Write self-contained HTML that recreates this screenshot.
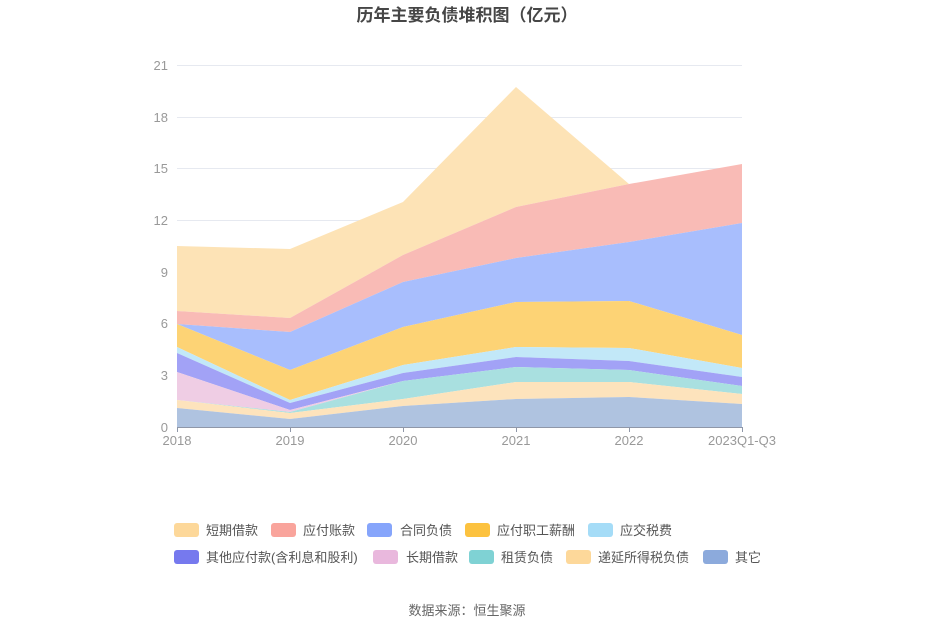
<!DOCTYPE html>
<html><head><meta charset="utf-8"><style>
body{margin:0;background:#fff;}
svg{display:block;font-family:"Liberation Sans","Noto Sans CJK SC",sans-serif;}
</style></head><body>
<svg width="935" height="632" viewBox="0 0 935 632">
<text x="467" y="21" text-anchor="middle" font-size="17" font-weight="bold" fill="#464646">历年主要负债堆积图（亿元）</text>
<g stroke="#e6e9f0" stroke-width="1">
<line x1="177" x2="742" y1="65.5" y2="65.5"/><line x1="177" x2="742" y1="117.5" y2="117.5"/>
<line x1="177" x2="742" y1="168.5" y2="168.5"/><line x1="177" x2="742" y1="220.5" y2="220.5"/>
<line x1="177" x2="742" y1="272.5" y2="272.5"/><line x1="177" x2="742" y1="323.5" y2="323.5"/>
<line x1="177" x2="742" y1="375.5" y2="375.5"/>
</g>
<g font-size="13" fill="#999" text-anchor="end">
<text x="168" y="70">21</text><text x="168" y="122">18</text><text x="168" y="173">15</text>
<text x="168" y="225">12</text><text x="168" y="277">9</text><text x="168" y="328">6</text>
<text x="168" y="380">3</text><text x="168" y="432">0</text>
</g>
<g stroke="none">
<polygon fill="#fde3b6" points="177,246 290,249 403,202 516,87 629,184 742,164 742,164 629,184 516,207 403,255 290,318 177,311"/>
<polygon fill="#f9bbb6" points="177,311 290,318 403,255 516,207 629,184 742,164 742,223 629,242 516,258 403,282 290,332 177,324"/>
<polygon fill="#a8befd" points="177,324 290,332 403,282 516,258 629,242 742,223 742,335 629,301 516,302 403,327 290,370 177,324"/>
<polygon fill="#fdd375" points="177,324 290,370 403,327 516,302 629,301 742,335 742,368 629,348 516,347 403,365 290,400 177,347"/>
<polygon fill="#c2e8f8" points="177,347 290,400 403,365 516,347 629,348 742,368 742,377 629,361 516,357 403,373 290,403 177,353"/>
<polygon fill="#a2a2f6" points="177,353 290,403 403,373 516,357 629,361 742,377 742,386 629,370 516,367 403,381 290,410 177,372"/>
<polygon fill="#efcde4" points="177,372 290,410 403,381 516,367 629,370 742,386 742,386 629,370 516,367 403,381 290,412 177,400"/>
<polygon fill="#a9e0e0" points="177,400 290,412 403,381 516,367 629,370 742,386 742,394 629,382 516,382 403,399 290,413 177,400"/>
<polygon fill="#fde3bc" points="177,400 290,413 403,399 516,382 629,382 742,394 742,404 629,397 516,399 403,406 290,419 177,408"/>
<polygon fill="#afc3e0" points="177,408 290,419 403,406 516,399 629,397 742,404 742,427 177,427"/>
</g>
<line x1="177" x2="742" y1="427.5" y2="427.5" stroke="#8f97a8"/>
<g stroke="#8f97a8"><line x1="177.5" x2="177.5" y1="427" y2="432"/><line x1="290.5" x2="290.5" y1="427" y2="432"/><line x1="403.5" x2="403.5" y1="427" y2="432"/><line x1="516.5" x2="516.5" y1="427" y2="432"/><line x1="629.5" x2="629.5" y1="427" y2="432"/><line x1="742.5" x2="742.5" y1="427" y2="432"/></g>
<g font-size="13" fill="#999" text-anchor="middle">
<text x="177" y="445">2018</text><text x="290" y="445">2019</text><text x="403" y="445">2020</text>
<text x="516" y="445">2021</text><text x="629" y="445">2022</text><text x="742" y="445">2023Q1-Q3</text>
</g>
<g font-size="13" fill="#555">
<rect x="174" y="523" width="25" height="14" rx="3" fill="#fdd89a"/><text x="206" y="535">短期借款</text>
<rect x="271" y="523" width="25" height="14" rx="3" fill="#f9a49c"/><text x="303" y="535">应付账款</text>
<rect x="367" y="523" width="25" height="14" rx="3" fill="#86a5fb"/><text x="400" y="535">合同负债</text>
<rect x="465" y="523" width="25" height="14" rx="3" fill="#fcc23f"/><text x="497" y="535">应付职工薪酬</text>
<rect x="588" y="523" width="25" height="14" rx="3" fill="#a5dcf7"/><text x="620" y="535">应交税费</text>
<rect x="174" y="550" width="25" height="14" rx="3" fill="#7679ee"/><text x="206" y="562">其他应付款(含利息和股利)</text>
<rect x="373" y="550" width="25" height="14" rx="3" fill="#e9b8dd"/><text x="406" y="562">长期借款</text>
<rect x="469" y="550" width="25" height="14" rx="3" fill="#7fd2d4"/><text x="501" y="562">租赁负债</text>
<rect x="566" y="550" width="25" height="14" rx="3" fill="#fdd89a"/><text x="598" y="562">递延所得税负债</text>
<rect x="703" y="550" width="25" height="14" rx="3" fill="#8caadc"/><text x="735" y="562">其它</text>
</g>
<text x="467" y="615" text-anchor="middle" font-size="13" fill="#666">数据来源：恒生聚源</text>
</svg>
</body></html>
